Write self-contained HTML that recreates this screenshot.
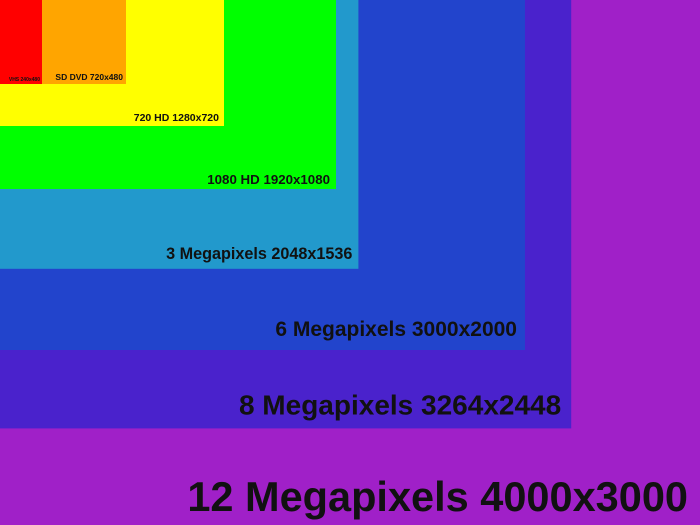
<!DOCTYPE html>
<html><head><meta charset="utf-8"><style>html,body{margin:0;padding:0;background:#a020c8}svg{display:block}</style></head>
<body>
<svg id="chart" width="700" height="525" xmlns="http://www.w3.org/2000/svg"></svg>
<script>
const labels = ["12 Megapixels 4000x3000","8 Megapixels 3264x2448","6 Megapixels 3000x2000","3 Megapixels 2048x1536","1080 HD 1920x1080","720 HD 1280x720","SD DVD 720x480","VHS 240x480"];
const widths = [4000,3264,3000,2048,1920,1280,720,240];
const heights = [3000,2448,2000,1536,1080,720,480,480];
const colors = ["#a020c8","#4a22cc","#2244cc","#2299cc","#00ff00","#ffff00","#ffa500","#ff0000"];
const fontSizes = [41.5,28,21,16.2,13.3,10.5,8.5,5];
const rightPad = [12,10,8,6,6,5,3,2];
const bottomPad = [14,14,14,10,5,5,4,3];
const sx = v => v * 700 / 4000;
const sy = v => v * 525 / 3000;
const svg = document.getElementById('chart');
const NS = 'http://www.w3.org/2000/svg';
widths.forEach((w,i)=>{
  const r = document.createElementNS(NS,'rect');
  
  
  r.setAttribute('x',0);r.setAttribute('y',0);
  r.setAttribute('width',sx(w));r.setAttribute('height',sy(heights[i]));
  r.setAttribute('fill',colors[i]);
  svg.appendChild(r);
});
widths.forEach((w,i)=>{
  const t = document.createElementNS(NS,'text');
  
  
  t.setAttribute('x',sx(w) - rightPad[i]);
  t.setAttribute('y',sy(heights[i]) - bottomPad[i]);
  t.setAttribute('text-anchor','end');
  t.setAttribute('font-family','Liberation Sans, sans-serif');
  t.setAttribute('font-weight','bold');
  t.setAttribute('font-size',fontSizes[i]);
  t.setAttribute('fill','#111');
  t.textContent = labels[i];
  svg.appendChild(t);
});
</script>
</body></html>
